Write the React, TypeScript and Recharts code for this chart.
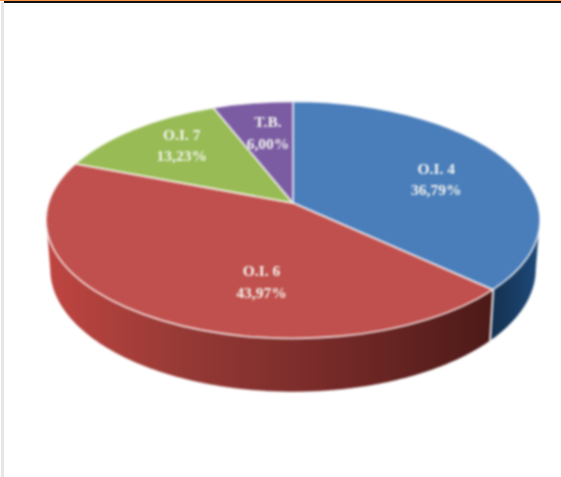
import { PieChart, Pie } from 'recharts';

// Shares
const sliceNames = ['O.I. 4', 'O.I. 6', 'O.I. 7', 'T.B.'];
const sliceValues = [36.79, 43.97, 13.23, 6.0];
const sliceColors = ['#4a7ebb', '#c0504d', '#98bb55', '#7b5ca3'];
const wallFills = ['url(#wallBlue)', 'url(#wallRed)', '#76923c', '#5f497a'];
const labelNudges = [[-1, 6], [62, 6], [-2, -7], [3, -1]];

const chartData = sliceNames.map((name, i) => ({
  name,
  value: sliceValues[i],
  fill: sliceColors[i],
  wall: wallFills[i],
  nudge: labelNudges[i],
}));

const WIDTH = 561;
const HEIGHT = 477;
const CX = 293;
const CY = 220;
const RY = 118.5; // outer radius given to the Pie, also the vertical radius of the top ellipse
const RX = 247;
const TILT = 0.1435; // perspective: the pie's centre sits above the centre of the ellipse

// Lower rim of the disc
const BOTTOM_CY = 269;
const BOTTOM_RX = 243;
const BOTTOM_RY = 123;

const RADIAN = Math.PI / 180;

// Circle angle -> point on the tilted disc, relative to the ellipse centre (y up)
const project = (angle: number, r = 1) => {
  const u = r * Math.cos(angle * RADIAN);
  const v = r * Math.sin(angle * RADIAN);
  const w = 1 + TILT * v;
  const a = RX * Math.sqrt(1 - TILT * TILT);
  return { x: (a * u) / w, y: (RY * v + RY * TILT) / w };
};

const renderSlice = (props: any) => {
  const { cx, cy, startAngle, endAngle, fill, payload } = props;
  const from = project(startAngle);
  const to = project(endAngle);
  const apex = project(0, 0);

  const phiFrom = Math.atan2(from.y / RY, from.x / RX);
  const phiTo = Math.atan2(to.y / RY, to.x / RX);
  const sweep = ((phiFrom - phiTo) / RADIAN + 720) % 360;

  const face = [
    `M${cx + apex.x},${cy - apex.y}`,
    `L${cx + from.x},${cy - from.y}`,
    `A${RX},${RY} 0 ${sweep > 180 ? 1 : 0} 1 ${cx + to.x},${cy - to.y}`,
    'Z',
  ].join(' ');

  // side wall: only the part of the rim that faces the viewer
  const rim: { x: number; y: number }[] = [];
  for (let a = startAngle; a >= endAngle; a -= 0.5) {
    const p = project(a);
    if (p.y <= 0) rim.push(p);
  }
  const wallTop = rim.map(p => `${cx + p.x},${cy - p.y}`);
  const wallBottom = rim
    .map(p => `${cx + (p.x * BOTTOM_RX) / RX},${BOTTOM_CY - (p.y * BOTTOM_RY) / RY}`)
    .reverse();

  return (
    <g>
      {rim.length > 1 && (
        <polygon
          points={[...wallTop, ...wallBottom].join(' ')}
          fill={payload.wall}
          stroke="#ffffff"
          strokeOpacity={0.45}
          strokeWidth={1.2}
        />
      )}
      <path d={face} fill={fill} stroke="#ffffff" strokeOpacity={0.6} strokeWidth={2} strokeLinejoin="round" />
    </g>
  );
};

const renderLabel = (props: any) => {
  const { cx, cy, midAngle, name, value, payload } = props;
  const p = project(midAngle, 0.67);
  const x = cx + p.x + payload.nudge[0];
  const y = cy - p.y + payload.nudge[1];
  return (
    <text
      x={x}
      y={y}
      fill="#f4f4ee"
      fontFamily="'Liberation Serif', serif"
      fontWeight="bold"
      fontSize={15.5}
      textAnchor="middle"
    >
      <tspan x={x} dy={-5}>{name}</tspan>
      <tspan x={x} dy={21.5}>{`${value.toFixed(2).replace('.', ',')}%`}</tspan>
    </text>
  );
};

const App = () => {
  return (
    <div style={{ position: 'absolute', left: 0, top: 0, width: WIDTH, height: HEIGHT, background: '#fff', overflow: 'hidden' }}>
      {/* frame left over from the slide the chart was cut out of */}
      <div style={{ position: 'absolute', left: 0, top: 0, width: WIDTH, height: 1, background: '#f79646' }} />
      <div style={{ position: 'absolute', left: 4, top: 1, width: WIDTH - 4, height: 2, background: '#111' }} />
      <div style={{ position: 'absolute', left: 1, top: 2, width: 3, height: HEIGHT - 2, background: '#e6e6e6' }} />
      <div style={{ position: 'absolute', left: 0, top: 0, filter: 'blur(1px)' }}>
        <PieChart width={WIDTH} height={HEIGHT} margin={{ top: 0, right: 0, bottom: 0, left: 0 }}>
          <defs>
            <linearGradient id="wallRed" gradientUnits="userSpaceOnUse" x1={46} y1={0} x2={491} y2={0}>
              <stop offset="0" stopColor="#bf4541" />
              <stop offset="0.3" stopColor="#973a36" />
              <stop offset="0.6" stopColor="#7a2c2a" />
              <stop offset="1" stopColor="#4d1a18" />
            </linearGradient>
            <linearGradient id="wallBlue" gradientUnits="userSpaceOnUse" x1={491} y1={0} x2={540} y2={0}>
              <stop offset="0" stopColor="#14304f" />
              <stop offset="1" stopColor="#1e4a7a" />
            </linearGradient>
          </defs>
          <Pie
            data={chartData}
            dataKey="value"
            nameKey="name"
            cx={CX}
            cy={CY}
            innerRadius={0}
            outerRadius={RY}
            startAngle={90}
            endAngle={-270}
            paddingAngle={0}
            stroke="none"
            shape={renderSlice}
            label={renderLabel}
            labelLine={false}
            isAnimationActive={false}
          />
        </PieChart>
      </div>
    </div>
  );
};

export default App;
